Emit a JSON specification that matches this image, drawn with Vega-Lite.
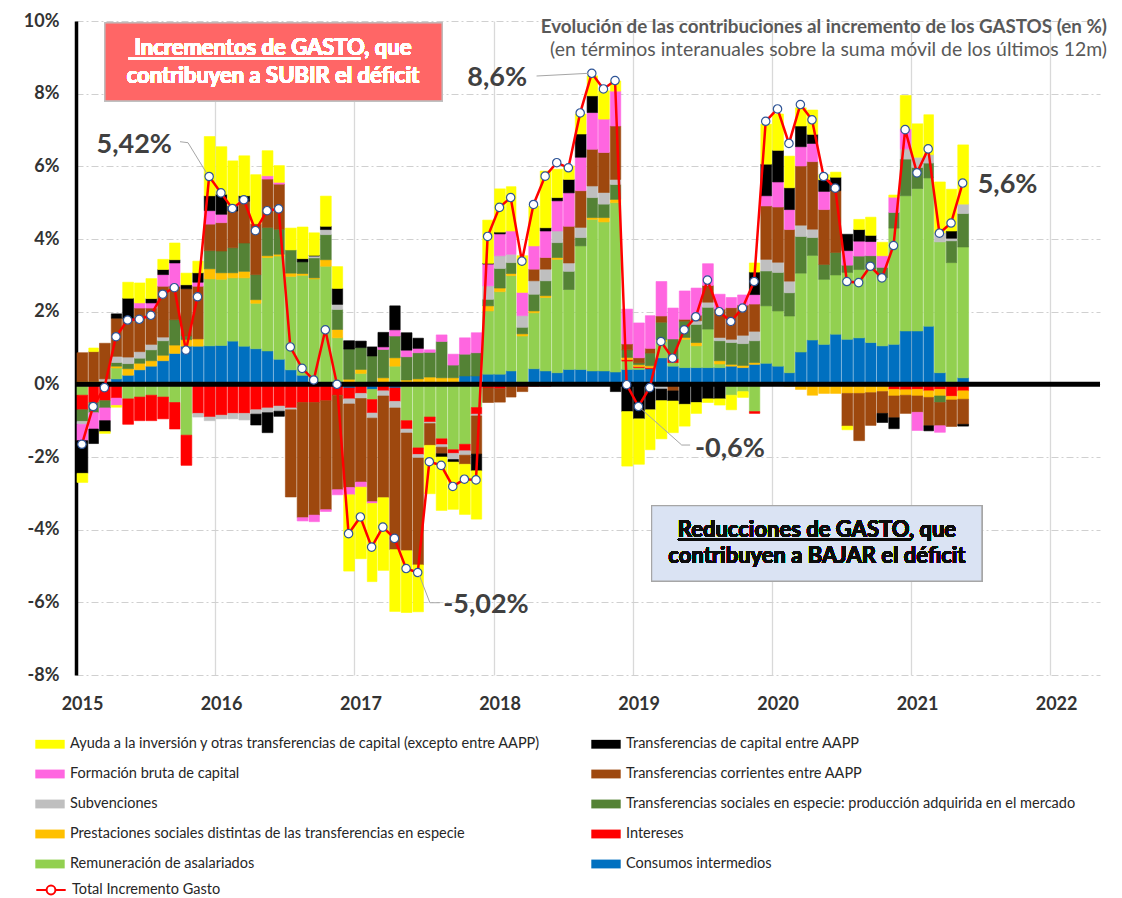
{
"$schema": "https://vega.github.io/schema/vega-lite/v6.json",
"width": 1024, "height": 654,
"autosize": {"type": "none"},
"padding": {"left": 76, "top": 21, "right": 22, "bottom": 223},
"background": "white",
"config": {"view": {"stroke": null}, "font": "Lato"},
"resolve": {"scale": {"stroke": "independent"}, "legend": {"stroke": "independent"}},
"title": {"text": "Evolución de las contribuciones al incremento de los GASTOS (en %)", "subtitle": "(en términos interanuales sobre la suma móvil de los últimos 12m)", "anchor": "end", "frame": "group", "orient": "top", "offset": -47, "dx": 7, "font": "Lato", "fontSize": 18.8, "fontWeight": "bold", "color": "#595959", "subtitleFont": "Lato", "subtitleFontSize": 19.4, "subtitleColor": "#595959", "subtitlePadding": 4},
"data": {"values": [
{"d":"2015-01-01","rem":-0.3,"int":-0.4,"pre":0.08,"tse":-0.32,"sub":-0.08,"tco":0.79,"fbc":-0.45,"tca":-0.9,"ayu":-0.25,"tot":-1.65},
{"d":"2015-02-01","int":-0.5,"pre":0.08,"tse":-0.28,"tco":0.82,"fbc":-0.45,"tca":-0.4,"ayu":0.1,"tot":-0.61},
{"d":"2015-03-01","int":-0.45,"pre":0.08,"tse":-0.2,"sub":0.07,"tco":0.98,"fbc":-0.35,"tca":-0.3,"ayu":-0.05,"tot":-0.09},
{"d":"2015-04-01","ci":0.15,"rem":0.3,"int":-0.38,"pre":0.05,"tse":0.1,"sub":0.17,"tco":1.05,"fbc":-0.2,"tca":0.12,"ayu":-0.05,"tot":1.31},
{"d":"2015-05-01","ci":0.25,"rem":-0.4,"int":-0.7,"pre":0.18,"tse":0.14,"sub":0.18,"tco":1.05,"tca":0.57,"ayu":0.44,"tot":1.77},
{"d":"2015-06-01","ci":0.4,"rem":-0.35,"int":-0.65,"pre":0.18,"tse":0.14,"sub":0.18,"tco":1.2,"fbc":0.14,"ayu":0.55,"tot":1.79},
{"d":"2015-07-01","ci":0.5,"rem":-0.3,"int":-0.7,"pre":0.15,"tse":0.3,"sub":0.15,"tco":1.0,"fbc":0.14,"tca":0.12,"ayu":0.55,"tot":1.9},
{"d":"2015-08-01","ci":0.65,"rem":-0.35,"int":-0.6,"pre":0.15,"tse":0.4,"sub":0.1,"tco":1.4,"fbc":0.32,"tca":0.14,"ayu":0.28,"tot":2.48},
{"d":"2015-09-01","ci":0.85,"rem":-0.5,"int":-0.73,"pre":0.23,"tse":0.7,"tco":0.92,"fbc":0.64,"tca":0.09,"ayu":0.46,"tot":2.66},
{"d":"2015-10-01","ci":1.05,"rem":-1.4,"int":-0.83,"pre":0.18,"tse":0.1,"tco":1.3,"tca":0.11,"ayu":0.32,"tot":0.94},
{"d":"2015-11-01","ci":1.05,"int":-0.8,"pre":0.2,"sub":-0.1,"tco":1.45,"fbc":0.11,"tca":0.26,"ayu":0.32,"tot":2.41},
{"d":"2015-12-01","ci":1.06,"rem":1.84,"int":-0.9,"pre":0.28,"tse":0.5,"sub":-0.1,"tco":0.73,"fbc":0.37,"tca":0.41,"ayu":1.63,"tot":5.72},
{"d":"2016-01-01","ci":1.07,"rem":1.82,"int":-0.85,"pre":0.18,"tse":0.6,"sub":-0.1,"tco":0.78,"fbc":0.23,"tca":0.55,"ayu":1.31,"tot":5.27},
{"d":"2016-02-01","ci":1.19,"rem":1.74,"int":-0.8,"pre":0.14,"tse":0.69,"sub":-0.15,"tco":1.01,"tca":0.14,"ayu":1.24,"tot":4.84},
{"d":"2016-03-01","ci":1.05,"rem":1.88,"int":-0.8,"pre":0.18,"tse":0.78,"sub":-0.18,"tco":1.15,"tca":0.15,"ayu":1.1,"tot":5.08},
{"d":"2016-04-01","ci":0.98,"rem":1.25,"int":-0.7,"pre":0.1,"tse":0.69,"sub":-0.12,"tco":1.4,"tca":-0.3,"ayu":1.35,"tot":4.23},
{"d":"2016-05-01","ci":0.92,"rem":2.57,"int":-0.65,"pre":0.05,"tse":0.78,"sub":-0.13,"tco":1.33,"fbc":0.09,"tca":-0.55,"ayu":0.69,"tot":4.78},
{"d":"2016-06-01","ci":0.69,"rem":2.84,"int":-0.6,"pre":0.05,"tse":0.69,"sub":-0.14,"tco":1.24,"fbc":0.05,"tca":-0.14,"ayu":0.46,"tot":4.83},
{"d":"2016-07-01","ci":0.4,"rem":2.57,"int":-0.65,"pre":0.09,"tse":0.64,"sub":-0.05,"tco":-2.4,"ayu":0.6,"tot":1.03},
{"d":"2016-08-01","ci":0.25,"rem":2.75,"int":-0.5,"pre":0.05,"tse":0.32,"tco":-3.17,"fbc":-0.09,"tca":0.09,"ayu":0.87,"tot":0.44},
{"d":"2016-09-01","rem":2.9,"int":-0.5,"pre":0.03,"tse":0.55,"sub":0.05,"tco":-3.1,"fbc":-0.18,"tca":0.02,"ayu":0.62,"tot":0.12},
{"d":"2016-10-01","ci":0.05,"rem":3.2,"int":-0.45,"pre":0.18,"tse":0.69,"sub":0.14,"tco":-3.0,"fbc":-0.05,"tca":0.09,"ayu":0.83,"tot":1.5},
{"d":"2016-11-01","rem":1.28,"int":-0.3,"pre":0.23,"tse":0.55,"sub":0.14,"tco":-2.6,"fbc":-0.14,"tca":0.44,"ayu":0.6,"tot":0.0},
{"d":"2016-12-01","ci":-0.1,"rem":0.05,"int":-0.3,"pre":0.09,"tse":0.83,"sub":-0.14,"tco":-2.3,"fbc":-0.2,"tca":0.23,"ayu":-2.1,"tot":-4.11},
{"d":"2017-01-01","rem":0.3,"int":-0.25,"pre":0.11,"tse":0.6,"sub":-0.14,"tco":-2.3,"fbc":-0.14,"tca":0.18,"ayu":-1.97,"tot":-3.65},
{"d":"2017-02-01","ci":-0.14,"rem":-0.28,"int":-0.37,"pre":0.05,"tse":0.73,"sub":-0.14,"tco":-2.3,"fbc":-0.05,"tca":0.25,"ayu":-2.15,"tot":-4.48},
{"d":"2017-03-01","int":-0.18,"pre":0.18,"tse":0.78,"sub":-0.14,"tco":-2.8,"fbc":0.07,"tca":0.4,"ayu":-2.0,"tot":-3.93},
{"d":"2017-04-01","ci":-0.1,"rem":0.5,"int":-0.37,"pre":0.23,"tse":0.6,"sub":-0.18,"tco":-3.9,"fbc":0.17,"tca":0.66,"ayu":-1.7,"tot":-4.24},
{"d":"2017-05-01","rem":-1.0,"int":-0.23,"pre":0.12,"tse":0.64,"sub":-0.11,"tco":-3.24,"fbc":0.18,"tca":0.48,"ayu":-1.7,"tot":-5.07},
{"d":"2017-06-01","rem":-1.75,"int":-0.18,"pre":0.15,"tse":0.72,"sub":-0.1,"tco":-2.94,"fbc":0.12,"tca":0.28,"ayu":-1.29,"tot":-5.18},
{"d":"2017-07-01","rem":-0.9,"int":-0.14,"pre":0.2,"tse":0.68,"sub":-0.04,"tco":-0.6,"fbc":0.07,"ayu":-1.33,"tot":-2.13},
{"d":"2017-08-01","rem":-1.5,"int":-0.16,"pre":0.18,"tse":1.0,"sub":-0.07,"tco":-0.18,"fbc":0.18,"tca":-0.09,"ayu":-1.47,"tot":-2.23},
{"d":"2017-09-01","rem":-1.8,"int":-0.1,"pre":0.18,"tse":0.35,"sub":-0.17,"fbc":0.3,"tca":-0.07,"ayu":-1.3,"tot":-2.81},
{"d":"2017-10-01","ci":0.23,"rem":-1.65,"int":-0.18,"tse":0.6,"sub":-0.12,"tco":-0.25,"fbc":0.45,"ayu":-1.38,"tot":-2.61},
{"d":"2017-11-01","ci":0.23,"rem":-0.64,"int":-0.18,"tse":0.64,"sub":-0.05,"tco":-1.05,"fbc":0.55,"tca":-0.46,"ayu":-1.33,"tot":-2.63},
{"d":"2017-12-01","ci":0.28,"rem":1.74,"int":-0.1,"pre":0.14,"tse":0.18,"sub":0.37,"tco":-0.4,"fbc":0.6,"tca":0.02,"ayu":1.19,"tot":4.07},
{"d":"2018-01-01","ci":0.28,"rem":2.27,"int":-0.12,"pre":0.1,"tse":0.54,"sub":0.35,"tco":-0.37,"fbc":0.6,"tca":0.05,"ayu":1.19,"tot":4.87},
{"d":"2018-02-01","ci":0.37,"rem":2.62,"int":-0.05,"pre":0.06,"tse":0.3,"sub":0.23,"tco":-0.3,"fbc":0.64,"ayu":1.22,"tot":5.14},
{"d":"2018-03-01","rem":1.33,"int":-0.08,"pre":0.06,"tse":0.18,"sub":0.32,"tco":-0.12,"fbc":0.64,"ayu":1.01,"tot":3.39},
{"d":"2018-04-01","ci":0.43,"rem":1.54,"int":-0.05,"pre":0.05,"tse":0.46,"sub":0.37,"tco":0.32,"fbc":0.64,"ayu":1.1,"tot":4.95},
{"d":"2018-05-01","ci":0.37,"rem":2.02,"int":-0.05,"pre":0.05,"tse":0.41,"sub":0.32,"tco":0.32,"fbc":0.73,"tca":0.09,"ayu":1.56,"tot":5.73},
{"d":"2018-06-01","ci":0.32,"rem":3.12,"pre":0.05,"tse":0.41,"sub":0.32,"fbc":0.83,"tca":0.09,"ayu":0.78,"tot":6.1},
{"d":"2018-07-01","ci":0.41,"rem":2.2,"tse":0.5,"sub":0.23,"tco":1.01,"fbc":0.92,"tca":0.37,"ayu":0.37,"tot":5.96},
{"d":"2018-08-01","ci":0.41,"rem":3.4,"tse":0.23,"sub":0.28,"tco":1.01,"fbc":0.92,"tca":0.64,"ayu":0.55,"tot":7.47},
{"d":"2018-09-01","ci":0.37,"rem":4.17,"pre":0.05,"tse":0.55,"sub":0.32,"tco":1.01,"fbc":1.01,"tca":0.46,"ayu":0.55,"tot":8.56},
{"d":"2018-10-01","ci":0.37,"rem":4.1,"pre":0.12,"tse":0.37,"sub":0.32,"tco":1.1,"fbc":0.92,"ayu":0.78,"tot":8.13},
{"d":"2018-11-01","ci":0.34,"rem":4.66,"pre":0.09,"tse":0.41,"sub":0.14,"tco":1.47,"fbc":0.96,"tca":-0.2,"ayu":0.28,"tot":8.36},
{"d":"2018-12-01","ci":0.41,"rem":0.23,"int":0.04,"pre":0.06,"tse":0.21,"tco":0.16,"fbc":0.96,"tca":-0.75,"ayu":-1.5,"tot":-0.01},
{"d":"2019-01-01","ci":0.41,"rem":0.05,"int":0.03,"pre":0.05,"tse":0.05,"tco":0.14,"fbc":0.96,"tca":-0.95,"ayu":-1.25,"tot":-0.61},
{"d":"2019-02-01","ci":0.43,"int":0.03,"pre":0.05,"tse":0.35,"sub":-0.1,"tco":0.13,"fbc":0.9,"tca":-0.6,"ayu":-1.1,"tot":-0.09},
{"d":"2019-03-01","ci":0.73,"rem":0.45,"pre":0.05,"tse":0.48,"sub":-0.13,"tco":0.17,"fbc":0.95,"tca":-0.32,"ayu":-1.05,"tot":1.18},
{"d":"2019-04-01","ci":0.5,"rem":0.1,"int":0.1,"tse":0.55,"tco":-0.18,"fbc":0.85,"tca":-0.28,"ayu":-0.87,"tot":0.72},
{"d":"2019-05-01","ci":0.46,"rem":0.78,"pre":0.05,"tse":0.45,"tco":0.05,"fbc":0.78,"tca":-0.55,"ayu":-0.6,"tot":1.5},
{"d":"2019-06-01","ci":0.46,"rem":0.6,"pre":0.09,"tse":0.5,"sub":0.1,"tco":0.15,"fbc":0.75,"tca":-0.5,"ayu":-0.3,"tot":1.86},
{"d":"2019-07-01","ci":0.46,"rem":1.06,"tse":0.6,"sub":0.14,"tco":0.46,"fbc":0.6,"tca":-0.4,"ayu":-0.1,"tot":2.87},
{"d":"2019-08-01","ci":0.46,"rem":0.1,"pre":0.09,"tse":0.55,"sub":0.09,"tco":0.78,"fbc":0.41,"tca":-0.4,"ayu":-0.17,"tot":2.0},
{"d":"2019-09-01","ci":0.5,"rem":-0.3,"pre":0.05,"tse":0.6,"sub":0.09,"tco":0.87,"fbc":0.28,"ayu":-0.4,"tot":1.73},
{"d":"2019-10-01","ci":0.46,"rem":-0.2,"pre":0.06,"tse":0.6,"sub":0.23,"tco":0.83,"fbc":0.28,"ayu":-0.16,"tot":2.1},
{"d":"2019-11-01","ci":0.55,"rem":-0.75,"int":-0.05,"pre":0.05,"tse":0.6,"sub":0.26,"tco":0.75,"fbc":0.26,"tca":0.62,"ayu":0.25,"tot":2.83},
{"d":"2019-12-01","ci":0.58,"rem":1.58,"pre":-0.03,"tse":0.96,"sub":0.32,"tco":1.47,"fbc":0.28,"tca":0.87,"ayu":1.1,"tot":7.24},
{"d":"2020-01-01","ci":0.5,"rem":1.52,"tse":1.06,"sub":0.28,"tco":1.52,"fbc":0.69,"tca":0.87,"ayu":1.0,"tot":7.58},
{"d":"2020-02-01","ci":0.32,"rem":1.56,"pre":-0.05,"tse":0.64,"sub":0.32,"tco":1.42,"fbc":0.55,"tca":0.6,"ayu":0.87,"tot":6.63},
{"d":"2020-03-01","ci":0.89,"rem":2.17,"pre":-0.14,"tse":1.01,"sub":0.31,"tco":1.63,"fbc":0.53,"tca":0.57,"ayu":0.5,"tot":7.7},
{"d":"2020-04-01","ci":1.22,"rem":2.33,"int":-0.05,"pre":-0.25,"tse":0.49,"sub":0.23,"tco":1.86,"fbc":0.5,"tca":0.25,"ayu":0.67,"tot":7.28},
{"d":"2020-05-01","ci":1.1,"rem":1.79,"int":-0.05,"pre":-0.2,"tse":0.41,"tco":1.51,"fbc":0.5,"tca":0.32,"ayu":0.14,"tot":5.72},
{"d":"2020-06-01","ci":1.38,"rem":1.63,"int":-0.05,"pre":-0.2,"tse":0.62,"tco":1.7,"tca":0.37,"ayu":0.14,"tot":5.4},
{"d":"2020-07-01","ci":1.24,"rem":1.84,"int":-0.05,"pre":-0.2,"tse":0.2,"tco":-0.9,"fbc":0.4,"tca":0.45,"ayu":-0.1,"tot":2.83},
{"d":"2020-08-01","ci":1.28,"rem":1.88,"int":-0.05,"pre":-0.2,"tse":0.37,"tco":-1.3,"fbc":0.41,"tca":0.32,"ayu":0.28,"tot":2.8},
{"d":"2020-09-01","ci":1.15,"rem":2.02,"int":-0.05,"pre":-0.18,"tse":0.37,"tco":-0.9,"fbc":0.39,"tca":0.17,"ayu":0.5,"tot":3.25},
{"d":"2020-10-01","ci":1.06,"rem":1.88,"int":-0.05,"pre":-0.15,"tse":0.28,"tco":-0.6,"fbc":0.32,"tca":-0.25,"ayu":0.37,"tot":2.93},
{"d":"2020-11-01","ci":1.1,"rem":3.2,"int":-0.14,"pre":-0.18,"tse":0.43,"tco":-0.6,"fbc":0.42,"tca":-0.3,"ayu":0.06,"tot":3.82},
{"d":"2020-12-01","ci":1.47,"rem":3.72,"int":-0.15,"pre":-0.15,"tse":1.01,"sub":0.28,"tco":-0.5,"fbc":0.55,"ayu":0.92,"tot":7.01},
{"d":"2021-01-01","ci":1.47,"rem":3.92,"int":-0.14,"pre":-0.18,"tse":0.58,"sub":0.28,"tco":-0.45,"fbc":-0.5,"ayu":0.92,"tot":5.82},
{"d":"2021-02-01","ci":1.6,"rem":4.08,"int":-0.18,"pre":-0.18,"tse":0.41,"sub":0.23,"tco":-0.78,"tca":-0.14,"ayu":1.1,"tot":6.48},
{"d":"2021-03-01","ci":0.32,"rem":3.6,"int":-0.14,"pre":-0.18,"tse":-0.18,"sub":0.25,"tco":-0.64,"fbc":-0.18,"ayu":1.4,"tot":4.16},
{"d":"2021-04-01","ci":-0.05,"rem":3.35,"int":-0.28,"pre":-0.1,"tse":0.6,"sub":0.07,"tco":-0.73,"tca":0.2,"ayu":1.15,"tot":4.44},
{"d":"2021-05-01","ci":0.18,"rem":3.6,"int":-0.18,"pre":-0.23,"tse":0.92,"sub":0.26,"tco":-0.69,"tca":-0.05,"ayu":1.63,"tot":5.54}
]},
"layer": [
{
 "mark": {"type": "bar", "strokeWidth": 0.6},
 "transform": [
  {"fold": ["ci","rem","int","pre","tse","sub","tco","fbc","tca","ayu"], "as": ["k","v"]},
  {"filter": "isValid(datum.v)"},
  {"calculate": "indexof(['ci','rem','int','pre','tse','sub','tco','fbc','tca','ayu'], datum.k)", "as": "o"}
 ],
 "encoding": {
  "x": {"field": "d", "timeUnit": "utcyearmonth", "type": "temporal",
   "scale": {"type": "utc", "domain": [{"year": 2015, "month": 1, "date": 1, "utc": true}, {"year": 2022, "month": 5, "date": 12, "utc": true}], "nice": false},
   "axis": {"title": null, "labelExpr": "utcFormat(datum.value, '%Y')",
    "values": [{"year":2015,"month":1,"date":1,"utc":true},{"year":2016,"month":1,"date":1,"utc":true},{"year":2017,"month":1,"date":1,"utc":true},{"year":2018,"month":1,"date":1,"utc":true},{"year":2019,"month":1,"date":1,"utc":true},{"year":2020,"month":1,"date":1,"utc":true},{"year":2021,"month":1,"date":1,"utc":true},{"year":2022,"month":1,"date":1,"utc":true}],
    "grid": true, "gridColor": "#D9D9D9", "gridWidth": 1.3, "domain": false, "ticks": false,
    "labelFont": "Lato", "labelFontSize": 18, "labelFontWeight": "bold", "labelColor": "#333333", "labelPadding": 20, "labelOffset": 6, "labelFlush": false}},
  "y": {"field": "v", "type": "quantitative", "stack": "zero",
   "scale": {"domain": [-8, 10], "nice": false, "zero": false},
   "axis": {"title": null, "values": [-8,-6,-4,-2,0,2,4,6,8,10], "labelExpr": "datum.value + '%'",
    "grid": true, "gridColor": "#D0D0D0", "gridDash": [7,3,2,3], "gridWidth": 1,
    "domain": true, "domainColor": "black", "domainWidth": 3.5, "ticks": false,
    "labelFont": "Lato", "labelFontSize": 18, "labelFontWeight": "bold", "labelColor": "#333333", "labelPadding": 17}},
  "color": {"field": "k", "type": "nominal",
   "scale": {"domain": ["ayu","fbc","sub","pre","rem","tca","tco","tse","int","ci"],
    "range": ["#FFFF00","#FF66E0","#BFBFBF","#FFC000","#92D050","#000000","#9E480E","#548235","#FF0000","#0070C0"]},
   "legend": {"orient": "none", "legendX": -41, "legendY": 708, "columns": 2, "columnPadding": 50, "rowPadding": 8, "title": null,
    "symbolType": "M-1,-0.3H1V0.3H-1Z", "symbolSize": 864, "symbolStrokeWidth": 0, "symbolOpacity": 1,
    "labelFont": "Lato", "labelFontSize": 14.5, "labelColor": "#262626", "labelLimit": 700, "labelOffset": 5,
    "labelExpr": "['Ayuda a la inversión y otras transferencias de capital (excepto entre AAPP)','Formación bruta de capital','Subvenciones','Prestaciones sociales distintas de las transferencias en especie','Remuneración de asalariados','Transferencias de capital entre AAPP','Transferencias corrientes entre AAPP','Transferencias sociales en especie: producción adquirida en el mercado','Intereses','Consumos intermedios'][indexof(['ayu','fbc','sub','pre','rem','tca','tco','tse','int','ci'], datum.value)]"}},
  "stroke": {"field": "k", "type": "nominal",
   "scale": {"domain": ["ayu","fbc","sub","pre","rem","tca","tco","tse","int","ci"],
    "range": ["#FFFF00","#FF66E0","#BFBFBF","#FFC000","#92D050","#000000","#9E480E","#548235","#FF0000","#0070C0"]},
   "legend": null},
  "order": {"field": "o", "type": "quantitative"}
 }
},
{
 "data": {"values": [{}]},
 "mark": {"type": "rule", "color": "black", "strokeWidth": 5},
 "encoding": {"y": {"datum": 0}}
},
{
 "mark": {"type": "line", "strokeWidth": 2.5},
 "encoding": {
  "x": {"field": "d", "timeUnit": "utcyearmonth", "type": "temporal", "bandPosition": 0.5},
  "y": {"field": "tot", "type": "quantitative"},
  "stroke": {"datum": "Total Incremento Gasto", "scale": {"range": ["#FF0000"]},
   "legend": {"orient": "none", "legendX": -41, "legendY": 853, "title": null,
    "symbolType": "M-1,0H-0.3M0.3,0H1M-0.3,0A0.3,0.3,0,1,0,0.3,0A0.3,0.3,0,1,0,-0.3,0", "symbolSize": 864, "symbolStrokeWidth": 2, "symbolFillColor": "white",
    "labelFont": "Lato", "labelFontSize": 14.5, "labelColor": "#262626", "labelOffset": 5}}
 }
},
{
 "mark": {"type": "point", "filled": true, "fill": "white", "stroke": "#2F5597", "strokeWidth": 1.2, "size": 70, "opacity": 1},
 "encoding": {
  "x": {"field": "d", "timeUnit": "utcyearmonth", "type": "temporal", "bandPosition": 0.5},
  "y": {"field": "tot", "type": "quantitative"}
 }
},
{
 "mark": {"type": "rect", "fill": "#FF6666", "stroke": "#BFBFBF", "strokeWidth": 1.2},
 "encoding": {
  "x": {"datum": {"year": 2015, "month": 3, "date": 18, "utc": true}, "type": "temporal"},
  "x2": {"datum": {"year": 2017, "month": 8, "date": 19, "utc": true}},
  "y": {"datum": 9.95}, "y2": {"datum": 7.8}
 }
},
{
 "mark": {"type": "text", "text": ["Incrementos de GASTO, que", "contribuyen a SUBIR el déficit"], "font": "Lato", "fontSize": 22, "fontWeight": "bold", "fill": "#FFFFFF", "align": "center", "baseline": "alphabetic", "lineHeight": 28.3},
 "encoding": {
  "x": {"datum": {"year": 2016, "month": 6, "date": 1, "utc": true}, "type": "temporal"},
  "y": {"datum": 9.064}
 }
},
{
 "mark": {"type": "rule", "color": "white", "strokeWidth": 1.5},
 "encoding": {
  "x": {"datum": {"year": 2015, "month": 5, "date": 19, "utc": true}, "type": "temporal"},
  "x2": {"datum": {"year": 2017, "month": 1, "date": 16, "utc": true}},
  "y": {"datum": 8.968}
 }
},
{
 "mark": {"type": "rect", "fill": "#DAE3F3", "stroke": "#A6A6A6", "strokeWidth": 1.2},
 "encoding": {
  "x": {"datum": {"year": 2019, "month": 2, "date": 20, "utc": true}, "type": "temporal"},
  "x2": {"datum": {"year": 2021, "month": 7, "date": 6, "utc": true}},
  "y": {"datum": -3.341}, "y2": {"datum": -5.414}
 }
},
{
 "mark": {"type": "text", "text": ["Reducciones de GASTO, que", "contribuyen a BAJAR el déficit"], "font": "Lato", "fontSize": 22, "fontWeight": "bold", "fill": "#0D0D0D", "align": "center", "baseline": "alphabetic", "lineHeight": 26.6},
 "encoding": {
  "x": {"datum": {"year": 2020, "month": 4, "date": 29, "utc": true}, "type": "temporal"},
  "y": {"datum": -4.195}
 }
},
{
 "mark": {"type": "rule", "color": "#0D0D0D", "strokeWidth": 1.5},
 "encoding": {
  "x": {"datum": {"year": 2019, "month": 4, "date": 30, "utc": true}, "type": "temporal"},
  "x2": {"datum": {"year": 2021, "month": 1, "date": 1, "utc": true}},
  "y": {"datum": -4.272}
 }
},
{
 "data": {"values": [
  {"a":"2015-10-01","b":"2015-10-22","v":6.678,"w":6.65},
  {"a":"2015-10-22","b":"2015-12-10","v":6.65,"w":5.81},
  {"a":"2018-04-24","b":"2018-09-07","v":8.486,"w":8.56},
  {"a":"2017-06-20","b":"2017-07-18","v":-5.249,"w":-6.011},
  {"a":"2017-07-18","b":"2017-08-13","v":-6.011,"w":-6.011},
  {"a":"2019-01-22","b":"2019-05-10","v":-0.661,"w":-1.671},
  {"a":"2019-05-10","b":"2019-06-01","v":-1.671,"w":-1.671}
 ], "format": {"parse": {"a": "date", "b": "date"}}},
 "mark": {"type": "rule", "color": "#A6A6A6", "strokeWidth": 1},
 "encoding": {
  "x": {"field": "a", "type": "temporal"},
  "x2": {"field": "b"},
  "y": {"field": "v", "type": "quantitative"},
  "y2": {"field": "w"}
 }
},
{
 "data": {"values": [
  {"t":"8,6%","d":"2017-10-24","v":8.211},
  {"t":"-5,02%","d":"2017-08-22","v":-6.303},
  {"t":"-0,6%","d":"2019-06-14","v":-1.993},
  {"t":"5,6%","d":"2021-06-25","v":5.274}
 ], "format": {"parse": {"d": "date"}}},
 "mark": {"type": "text", "font": "Lato", "fontSize": 27, "fontWeight": "bold", "fill": "#404040", "align": "left", "baseline": "alphabetic"},
 "encoding": {
  "x": {"field": "d", "type": "temporal"},
  "y": {"field": "v", "type": "quantitative"},
  "text": {"field": "t"}
 }
},
{
 "data": {"values": [{"t":"5,42%","d":"2015-09-10","v":6.358}], "format": {"parse": {"d": "date"}}},
 "mark": {"type": "text", "font": "Lato", "fontSize": 27, "fontWeight": "bold", "fill": "#404040", "align": "right", "baseline": "alphabetic"},
 "encoding": {
  "x": {"field": "d", "type": "temporal"},
  "y": {"field": "v", "type": "quantitative"},
  "text": {"field": "t"}
 }
}
]
}
